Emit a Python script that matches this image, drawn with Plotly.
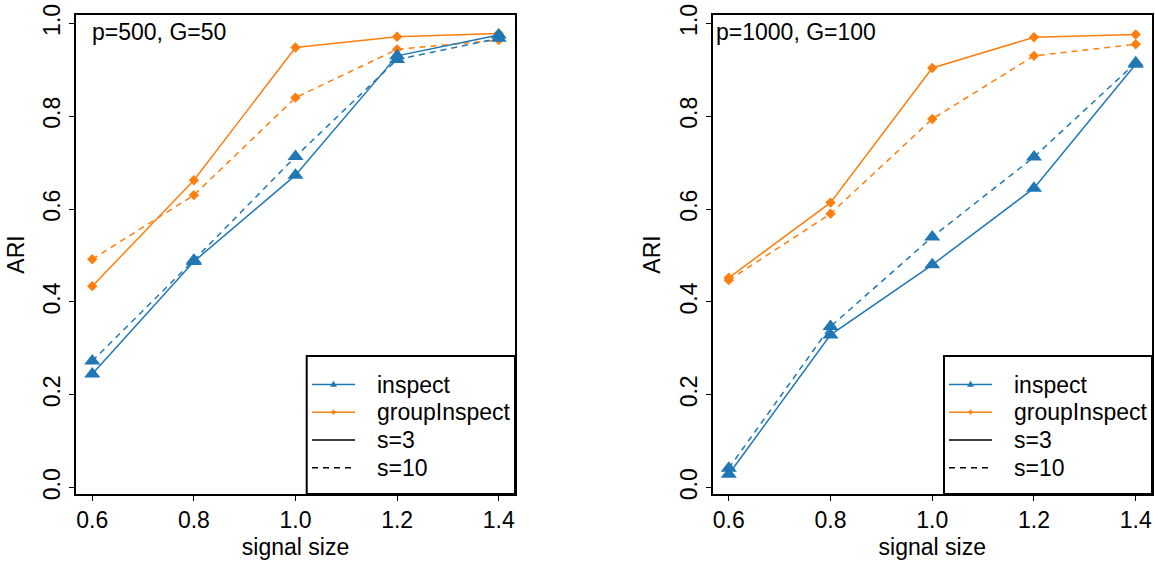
import plotly.graph_objects as go

signal = [0.6, 0.8, 1.0, 1.2, 1.4]

# Panel 1: p=500, G=50
p1_inspect_s3 = [0.245, 0.487, 0.673, 0.930, 0.975]
p1_inspect_s10 = [0.273, 0.490, 0.713, 0.922, 0.968]
p1_group_s3 = [0.434, 0.662, 0.948, 0.971, 0.978]
p1_group_s10 = [0.492, 0.630, 0.840, 0.944, 0.964]

# Panel 2: p=1000, G=100
p2_inspect_s3 = [0.029, 0.329, 0.480, 0.645, 0.912]
p2_inspect_s10 = [0.042, 0.347, 0.540, 0.712, 0.915]
p2_group_s3 = [0.452, 0.614, 0.904, 0.970, 0.976]
p2_group_s10 = [0.447, 0.590, 0.794, 0.930, 0.955]

panel_titles = ["p=500, G=50", "p=1000, G=100"]
legend_labels = ["inspect", "groupInspect", "s=3", "s=10"]
y_ticks = [0.0, 0.2, 0.4, 0.6, 0.8, 1.0]
x_ticks = [0.6, 0.8, 1.0, 1.2, 1.4]

BLUE = "#1f77b4"
ORANGE = "#ff7f0e"
FONT = "Liberation Sans, Arial, sans-serif"
FS = 23
W, H = 1155, 563
DASH = "6px,5px"

fig = go.Figure()

panels = [
    dict(xa="x", ya="y", g3=p1_group_s3, g10=p1_group_s10, i3=p1_inspect_s3, i10=p1_inspect_s10),
    dict(xa="x2", ya="y2", g3=p2_group_s3, g10=p2_group_s10, i3=p2_inspect_s3, i10=p2_inspect_s10),
]

for p in panels:
    for vals, dash in [(p["g3"], "solid"), (p["g10"], DASH)]:
        fig.add_trace(go.Scatter(x=signal, y=vals, xaxis=p["xa"], yaxis=p["ya"], mode="lines+markers",
                                 line=dict(color=ORANGE, width=1.5, dash=dash),
                                 marker=dict(symbol="diamond", size=8, color=ORANGE, line=dict(width=0)),
                                 showlegend=False, hoverinfo="skip"))
    for vals, dash in [(p["i3"], "solid"), (p["i10"], DASH)]:
        fig.add_trace(go.Scatter(x=signal, y=vals, xaxis=p["xa"], yaxis=p["ya"], mode="lines+markers",
                                 line=dict(color=BLUE, width=1.5, dash=dash),
                                 marker=dict(symbol="triangle-up", size=14, color=BLUE, line=dict(width=0)),
                                 showlegend=False, hoverinfo="skip"))

ydom = [1 - 494 / H, 1 - 15 / H]
xdoms = [[76 / W, 515 / W], [712.5 / W, 1152 / W]]

axis_common = dict(showline=True, linecolor="black", linewidth=1.5, mirror=True, ticks="outside",
                   ticklen=5, tickwidth=1, tickcolor="black", showgrid=False, zeroline=False,
                   tickfont=dict(family=FONT, size=FS, color="black"), automargin=False)

layout = dict(width=W, height=H, margin=dict(l=0, r=0, t=0, b=0), plot_bgcolor="white", paper_bgcolor="white",
              font=dict(family=FONT, size=FS, color="black"), showlegend=False)

for i, suf in enumerate(["", "2"]):
    layout["xaxis" + suf] = dict(domain=xdoms[i], range=[0.568, 1.432], tickvals=x_ticks,
                                 ticktext=[f"{v:.1f}" for v in x_ticks], anchor="y" + suf,
                                 title=dict(text="signal size", standoff=7, font=dict(family=FONT, size=FS)),
                                 **axis_common)
    layout["yaxis" + suf] = dict(domain=ydom, range=[-0.0136, 1.018], tickvals=y_ticks,
                                 ticktext=[f"{v:.1f}" for v in y_ticks], anchor="x" + suf, tickangle=-90,
                                 title=dict(text="ARI", standoff=8, font=dict(family=FONT, size=FS)),
                                 **axis_common)

fig.update_layout(**layout)


def px(x):
    return x / W


def py(y):
    return 1 - y / H


# manual legends (frame, line samples, glyphs, labels)
legend_rows = [384.5, 412.2, 440.0, 467.8]
for (bx0, bx1, lx0, lx1, tx) in [(306.7, 515, 312, 355, 375), (944, 1152, 949, 992, 1012)]:
    fig.add_shape(type="rect", xref="paper", yref="paper", x0=px(bx0), x1=px(bx1), y0=py(494), y1=py(356),
                  line=dict(color="black", width=2), fillcolor="rgba(0,0,0,0)")
    styles = [(BLUE, "solid"), (ORANGE, "solid"), ("black", "solid"), ("black", DASH)]
    for (col, dash), yy, lab in zip(styles, legend_rows, legend_labels):
        fig.add_shape(type="line", xref="paper", yref="paper", x0=px(lx0), x1=px(lx1), y0=py(yy), y1=py(yy),
                      line=dict(color=col, width=1.5, dash=dash))
        fig.add_annotation(text=lab, xref="paper", yref="paper", x=px(tx), y=py(yy), xanchor="left",
                           yanchor="middle", showarrow=False, font=dict(family=FONT, size=FS, color="black"))
    cx = (lx0 + lx1) / 2
    # small triangle glyph on the "inspect" sample
    ty = legend_rows[0]
    fig.add_shape(type="path", xref="paper", yref="paper",
                  path=f"M {px(cx - 3.5)},{py(ty + 2.3)} L {px(cx + 3.5)},{py(ty + 2.3)} L {px(cx)},{py(ty - 3.8)} Z",
                  fillcolor=BLUE, line=dict(width=0))
    # small diamond glyph on the "groupInspect" sample
    dy = legend_rows[1]
    fig.add_shape(type="path", xref="paper", yref="paper",
                  path=f"M {px(cx - 2.6)},{py(dy)} L {px(cx)},{py(dy - 2.6)} L {px(cx + 2.6)},{py(dy)} L {px(cx)},{py(dy + 2.6)} Z",
                  fillcolor=ORANGE, line=dict(width=0))

# panel labels
fig.add_annotation(text=panel_titles[0], xref="x domain", yref="y domain", x=(90 - 76) / 439, y=(494 - 32) / 479,
                   xanchor="left", yanchor="middle", showarrow=False, font=dict(family=FONT, size=FS, color="black"))
fig.add_annotation(text=panel_titles[1], xref="x2 domain", yref="y2 domain", x=(714 - 712.5) / 439.5, y=(494 - 32) / 479,
                   xanchor="left", yanchor="middle", showarrow=False, font=dict(family=FONT, size=FS, color="black"))

fig.write_html("out.html")
